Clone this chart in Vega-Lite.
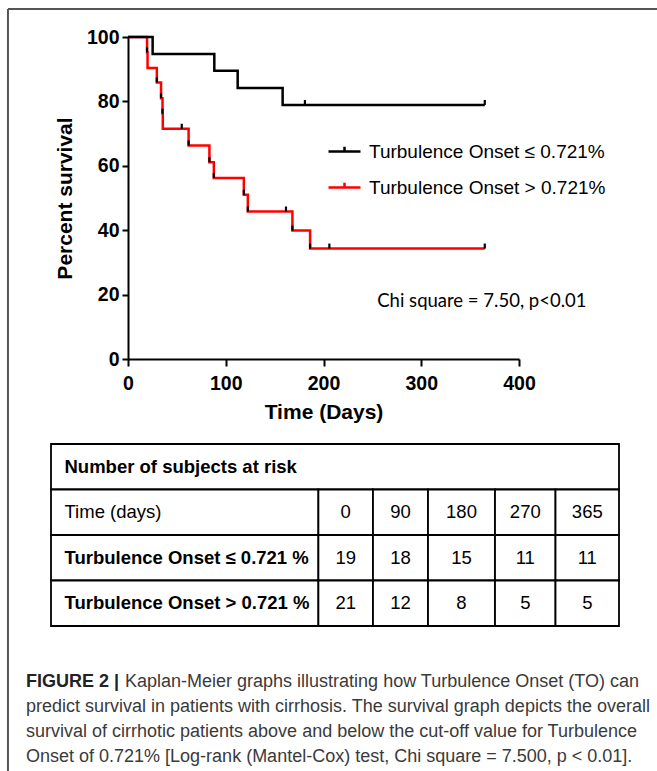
{
  "$schema": "https://vega.github.io/schema/vega-lite/v6.json",
  "background": "white",
  "padding": {"left": 6, "top": 7, "right": 0, "bottom": 0},
  "bounds": "flush",
  "spacing": 85,
  "datasets": {
    "km": [
      {"group": "Turbulence Onset > 0.721%", "day": 0, "surv": 100},
      {"group": "Turbulence Onset > 0.721%", "day": 19.5, "surv": 95.2},
      {"group": "Turbulence Onset > 0.721%", "day": 20, "surv": 90.4},
      {"group": "Turbulence Onset > 0.721%", "day": 29.5, "surv": 85.9},
      {"group": "Turbulence Onset > 0.721%", "day": 33.8, "surv": 81.0},
      {"group": "Turbulence Onset > 0.721%", "day": 35.3, "surv": 76.2},
      {"group": "Turbulence Onset > 0.721%", "day": 35.6, "surv": 71.5},
      {"group": "Turbulence Onset > 0.721%", "day": 62.0, "surv": 66.3},
      {"group": "Turbulence Onset > 0.721%", "day": 83.3, "surv": 61.1},
      {"group": "Turbulence Onset > 0.721%", "day": 87.8, "surv": 56.2},
      {"group": "Turbulence Onset > 0.721%", "day": 118.5, "surv": 51.0},
      {"group": "Turbulence Onset > 0.721%", "day": 122.6, "surv": 45.8},
      {"group": "Turbulence Onset > 0.721%", "day": 168.2, "surv": 39.9},
      {"group": "Turbulence Onset > 0.721%", "day": 186.3, "surv": 34.3},
      {"group": "Turbulence Onset > 0.721%", "day": 365, "surv": 34.3},
      {"group": "Turbulence Onset ≤ 0.721%", "day": 0, "surv": 100},
      {"group": "Turbulence Onset ≤ 0.721%", "day": 25.2, "surv": 94.7},
      {"group": "Turbulence Onset ≤ 0.721%", "day": 88.3, "surv": 89.5},
      {"group": "Turbulence Onset ≤ 0.721%", "day": 112.2, "surv": 84.2},
      {"group": "Turbulence Onset ≤ 0.721%", "day": 158.2, "surv": 78.9},
      {"group": "Turbulence Onset ≤ 0.721%", "day": 365, "surv": 78.9}
    ],
    "cens": [
      {"group": "Turbulence Onset ≤ 0.721%", "day": 181, "surv": 78.9},
      {"group": "Turbulence Onset ≤ 0.721%", "day": 365, "surv": 78.9},
      {"group": "Turbulence Onset > 0.721%", "day": 19.5, "surv": 95.2},
      {"group": "Turbulence Onset > 0.721%", "day": 29.5, "surv": 85.9},
      {"group": "Turbulence Onset > 0.721%", "day": 33.8, "surv": 81.0},
      {"group": "Turbulence Onset > 0.721%", "day": 35.3, "surv": 76.2},
      {"group": "Turbulence Onset > 0.721%", "day": 55, "surv": 71.5},
      {"group": "Turbulence Onset > 0.721%", "day": 62, "surv": 66.3},
      {"group": "Turbulence Onset > 0.721%", "day": 83.3, "surv": 61.1},
      {"group": "Turbulence Onset > 0.721%", "day": 87.8, "surv": 56.2},
      {"group": "Turbulence Onset > 0.721%", "day": 118.5, "surv": 51.0},
      {"group": "Turbulence Onset > 0.721%", "day": 122.6, "surv": 45.8},
      {"group": "Turbulence Onset > 0.721%", "day": 161.6, "surv": 45.8},
      {"group": "Turbulence Onset > 0.721%", "day": 168.2, "surv": 39.9},
      {"group": "Turbulence Onset > 0.721%", "day": 186.3, "surv": 34.3},
      {"group": "Turbulence Onset > 0.721%", "day": 206, "surv": 34.3},
      {"group": "Turbulence Onset > 0.721%", "day": 365, "surv": 34.3}
    ],
    "cells": [
      {"r0": 0, "r1": 1, "c0": 0, "c1": 6},
      {"r0": 1, "r1": 2, "c0": 0, "c1": 1},
      {"r0": 1, "r1": 2, "c0": 1, "c1": 2},
      {"r0": 1, "r1": 2, "c0": 2, "c1": 3},
      {"r0": 1, "r1": 2, "c0": 3, "c1": 4},
      {"r0": 1, "r1": 2, "c0": 4, "c1": 5},
      {"r0": 1, "r1": 2, "c0": 5, "c1": 6},
      {"r0": 2, "r1": 3, "c0": 0, "c1": 1},
      {"r0": 2, "r1": 3, "c0": 1, "c1": 2},
      {"r0": 2, "r1": 3, "c0": 2, "c1": 3},
      {"r0": 2, "r1": 3, "c0": 3, "c1": 4},
      {"r0": 2, "r1": 3, "c0": 4, "c1": 5},
      {"r0": 2, "r1": 3, "c0": 5, "c1": 6},
      {"r0": 3, "r1": 4, "c0": 0, "c1": 1},
      {"r0": 3, "r1": 4, "c0": 1, "c1": 2},
      {"r0": 3, "r1": 4, "c0": 2, "c1": 3},
      {"r0": 3, "r1": 4, "c0": 3, "c1": 4},
      {"r0": 3, "r1": 4, "c0": 4, "c1": 5},
      {"r0": 3, "r1": 4, "c0": 5, "c1": 6}
    ],
    "labels": [
      {"r0": 0, "label": "Number of subjects at risk"},
      {"r0": 1, "label": "Time (days)"},
      {"r0": 2, "label": "Turbulence Onset ≤ 0.721 %"},
      {"r0": 3, "label": "Turbulence Onset > 0.721 %"}
    ],
    "risk": [
      {"r0": 1, "col": 1, "n": "0"},
      {"r0": 1, "col": 2, "n": "90"},
      {"r0": 1, "col": 3, "n": "180"},
      {"r0": 1, "col": 4, "n": "270"},
      {"r0": 1, "col": 5, "n": "365"},
      {"r0": 2, "col": 1, "n": "19"},
      {"r0": 2, "col": 2, "n": "18"},
      {"r0": 2, "col": 3, "n": "15"},
      {"r0": 2, "col": 4, "n": "11"},
      {"r0": 2, "col": 5, "n": "11"},
      {"r0": 3, "col": 1, "n": "21"},
      {"r0": 3, "col": 2, "n": "12"},
      {"r0": 3, "col": 3, "n": "8"},
      {"r0": 3, "col": 4, "n": "5"},
      {"r0": 3, "col": 5, "n": "5"}
    ],
    "caption": [
      {"line": 0, "part": "bold", "text": "FIGURE 2 |"},
      {"line": 0, "part": "lead", "text": "Kaplan-Meier graphs illustrating how Turbulence Onset (TO) can"},
      {"line": 1, "part": "body", "text": "predict survival in patients with cirrhosis. The survival graph depicts the overall"},
      {"line": 2, "part": "body", "text": "survival of cirrhotic patients above and below the cut-off value for Turbulence"},
      {"line": 3, "part": "body", "text": "Onset of 0.721% [Log-rank (Mantel-Cox) test, Chi square = 7.500, p < 0.01]."}
    ]
  },
  "vconcat": [
    {
      "width": 391,
      "height": 322,
      "layer": [
        {
          "data": {"values": [{}]},
          "mark": {"type": "rule", "color": "#555555", "strokeWidth": 2},
          "encoding": {
            "x": {"datum": -122.8, "type": "quantitative"},
            "x2": {"datum": 541.2},
            "y": {"datum": 108.7, "type": "quantitative"}
          }
        },
        {
          "data": {"values": [{}]},
          "mark": {"type": "rule", "color": "#555555", "strokeWidth": 2},
          "encoding": {
            "x": {"datum": -122.8, "type": "quantitative"},
            "y": {"datum": 108.7, "type": "quantitative"},
            "y2": {"datum": -128.1}
          }
        },
        {
          "data": {"name": "km"},
          "mark": {"type": "line", "interpolate": "step-after", "strokeWidth": 2.5},
          "encoding": {
            "x": {
              "field": "day", "type": "quantitative",
              "scale": {"domain": [0, 400], "nice": false, "zero": false},
              "axis": {"values": [0, 100, 200, 300, 400], "title": "Time (Days)", "tickSize": 7, "labelPadding": 8, "titlePadding": 9}
            },
            "y": {
              "field": "surv", "type": "quantitative",
              "scale": {"domain": [0, 100], "nice": false},
              "axis": {"values": [0, 20, 40, 60, 80, 100], "title": "Percent survival", "tickSize": 6, "labelPadding": 3, "titlePadding": 11}
            },
            "color": {
              "field": "group", "type": "nominal",
              "scale": {"domain": ["Turbulence Onset ≤ 0.721%", "Turbulence Onset > 0.721%"], "range": ["#000000", "#ff0000"]},
              "legend": {
                "orient": "none", "legendX": 199, "legendY": 97, "title": null,
                "symbolType": "M-1,0H1M0,0V-0.3", "symbolSize": 1024, "symbolStrokeWidth": 2.5,
                "labelFont": "Liberation Sans", "labelFontSize": 19, "labelColor": "black",
                "labelOffset": 7, "rowPadding": 8, "labelLimit": 400, "padding": 0
              }
            }
          }
        },
        {
          "data": {"name": "cens"},
          "mark": {"type": "point", "shape": "M0,0V-1", "size": 100, "filled": false, "stroke": "black", "strokeWidth": 2.2, "opacity": 1},
          "encoding": {
            "x": {"field": "day", "type": "quantitative"},
            "y": {"field": "surv", "type": "quantitative"}
          }
        },
        {
          "data": {"values": [{"note": "Chi square = 7.50, p<0.01"}]},
          "mark": {"type": "text", "font": "Lato", "fontSize": 18.5, "align": "left", "baseline": "middle", "color": "black"},
          "encoding": {
            "x": {"datum": 255, "type": "quantitative"},
            "y": {"datum": 18, "type": "quantitative"},
            "text": {"field": "note", "type": "nominal"}
          }
        }
      ]
    },
    {
      "width": 391,
      "height": 182,
      "layer": [
        {
          "layer": [
            {
              "data": {"name": "cells"},
              "mark": {"type": "rect", "fill": "white", "stroke": "black", "strokeWidth": 1.8},
              "encoding": {
                "x": {"field": "c0", "type": "quantitative", "scale": {"domain": [0, 1, 2, 3, 4, 5, 6], "range": [-77, 190.4, 245, 300, 367, 427.5, 491], "nice": false, "zero": false}, "axis": null},
                "x2": {"field": "c1"},
                "y": {"field": "r0", "type": "quantitative", "scale": {"domain": [0, 4], "range": [0, 182], "nice": false, "zero": false}, "axis": null},
                "y2": {"field": "r1"}
              }
            },
            {
              "data": {"name": "labels"},
              "transform": [{"filter": "datum.r0 != 1"}],
              "mark": {"type": "text", "align": "left", "baseline": "middle", "dx": 13.5, "dy": 22.75, "font": "Liberation Sans", "fontWeight": "bold", "fontSize": 18.5, "color": "black"},
              "encoding": {
                "x": {"datum": 0, "type": "quantitative"},
                "y": {"field": "r0", "type": "quantitative"},
                "text": {"field": "label", "type": "nominal"}
              }
            },
            {
              "data": {"name": "labels"},
              "transform": [{"filter": "datum.r0 == 1"}],
              "mark": {"type": "text", "align": "left", "baseline": "middle", "dx": 13.5, "dy": 22.75, "font": "Liberation Sans", "fontWeight": "normal", "fontSize": 18.5, "color": "black"},
              "encoding": {
                "x": {"datum": 0, "type": "quantitative"},
                "y": {"field": "r0", "type": "quantitative"},
                "text": {"field": "label", "type": "nominal"}
              }
            }
          ]
        },
        {
          "data": {"name": "risk"},
          "mark": {"type": "text", "align": "center", "baseline": "middle", "dy": 22.75, "font": "Liberation Sans", "fontSize": 18.5, "color": "black"},
          "encoding": {
            "x": {"field": "col", "type": "quantitative", "scale": {"domain": [1, 2, 3, 4, 5], "range": [217.7, 272.5, 333.5, 397.3, 459.3], "nice": false, "zero": false}, "axis": null},
            "y": {"field": "r0", "type": "quantitative", "scale": {"domain": [0, 4], "range": [0, 182], "nice": false, "zero": false}, "axis": null},
            "text": {"field": "n", "type": "nominal"}
          }
        },
        {
          "data": {"name": "caption"},
          "encoding": {
            "x": {"datum": 0, "type": "quantitative", "scale": {"domain": [0, 1], "range": [-102, 391], "nice": false, "zero": false}, "axis": null},
            "y": {"field": "line", "type": "quantitative", "scale": {"domain": [0, 3], "range": [238, 313], "nice": false, "zero": false}, "axis": null},
            "text": {"field": "text", "type": "nominal"}
          },
          "layer": [
            {
              "transform": [{"filter": "datum.part == 'bold'"}],
              "mark": {"type": "text", "align": "left", "baseline": "middle", "font": "Liberation Sans", "fontSize": 18, "fontWeight": "bold", "color": "#222222"}
            },
            {
              "transform": [{"filter": "datum.part == 'lead'"}],
              "mark": {"type": "text", "align": "left", "baseline": "middle", "dx": 99, "font": "Liberation Sans", "fontSize": 18, "color": "#3a3a3a"}
            },
            {
              "transform": [{"filter": "datum.part == 'body'"}],
              "mark": {"type": "text", "align": "left", "baseline": "middle", "font": "Liberation Sans", "fontSize": 18, "color": "#3a3a3a"}
            }
          ]
        }
      ],
      "resolve": {"scale": {"x": "independent", "y": "independent"}}
    }
  ],
  "config": {
    "view": {"stroke": null},
    "axis": {
      "grid": false,
      "domainColor": "black", "domainWidth": 2,
      "tickColor": "black", "tickWidth": 2,
      "labelFont": "Liberation Sans", "labelFontWeight": "bold", "labelFontSize": 19.5, "labelColor": "black",
      "titleFont": "Liberation Sans", "titleFontWeight": "bold", "titleFontSize": 21, "titleColor": "black",
      "labelFlush": false, "labelOverlap": false
    }
  }
}
